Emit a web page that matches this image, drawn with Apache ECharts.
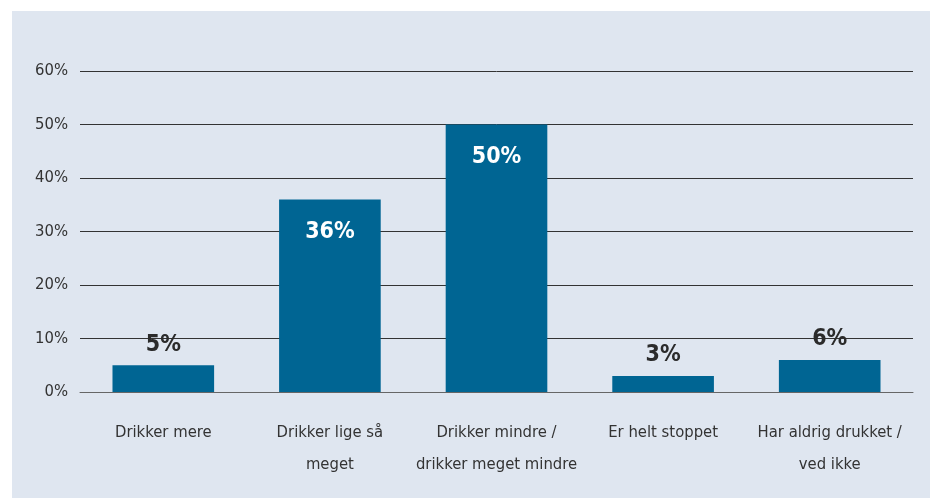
<!DOCTYPE html>
<html>
<head>
<meta charset="utf-8">
<script src="https://cdn.jsdelivr.net/npm/echarts@6/dist/echarts.min.js"></script>
<style>
  html, body { margin: 0; padding: 0; background: #fff; }
  #chart { width: 930px; height: 498px; }
</style>
</head>
<body>
<div id="chart"></div>
<script>
// data
const categories = ['Drikker mere', 'Drikker lige så\nmeget', 'Drikker mindre /\ndrikker meget mindre', 'Er helt stoppet', 'Har aldrig drukket /\nved ikke']
const values = [5, 36, 50, 3, 6]
const yTicks = [0, 10, 20, 30, 40, 50, 60]

const font = '"DejaVu Sans Condensed", "Roboto", sans-serif'
const myChart = echarts.init(document.getElementById('chart'))

// bars that are tall enough get the label inside, white
const barData = values.map(v => {
  const inside = v >= 20
  return {
    value: v,
    label: {
      position: inside ? 'insideTop' : 'top',
      distance: inside ? 21 : 9,
      color: inside ? '#ffffff' : '#2b2b2b'
    }
  }
})

const option = {
  backgroundColor: '#ffffff',
  graphic: [
    {
      type: 'rect',
      left: 12,
      top: 11,
      shape: { width: 918, height: 487 },
      style: { fill: '#dfe6f0' },
      z: -10
    }
  ],
  grid: {
    left: 80,
    right: 17,
    top: 71,
    bottom: 106
  },
  xAxis: {
    type: 'category',
    data: categories,
    axisLine: { show: true, lineStyle: { color: '#666', width: 1 } },
    axisTick: { show: false },
    axisLabel: {
      interval: 0,
      color: '#333',
      fontFamily: font,
      fontSize: 16.5,
      lineHeight: 32,
      margin: 25
    }
  },
  yAxis: {
    type: 'value',
    min: yTicks[0],
    max: yTicks[yTicks.length - 1],
    interval: 10,
    axisLine: { show: false },
    axisTick: { show: false },
    splitLine: { lineStyle: { color: '#333', width: 1 } },
    axisLabel: {
      formatter: '{value}%',
      color: '#333',
      fontFamily: font,
      fontSize: 16.5,
      margin: 12
    }
  },
  series: [
    {
      type: 'bar',
      data: barData,
      barWidth: '61%',
      itemStyle: { color: '#006593' },
      label: {
        show: true,
        formatter: '{c}%',
        fontFamily: font,
        fontWeight: 'bold',
        fontSize: 23
      }
    }
  ]
}

myChart.setOption(option)
</script>
</body>
</html>
